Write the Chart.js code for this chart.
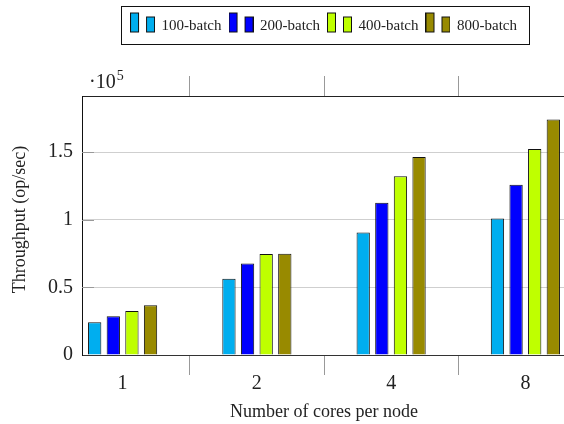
<!DOCTYPE html>
<html><head><meta charset="utf-8">
<script src="https://cdn.jsdelivr.net/npm/chart.js@4/dist/chart.umd.min.js"></script>
<style>html,body{margin:0;padding:0;overflow:hidden;background:#fff;width:564px;height:424px}canvas{display:block}</style>
</head><body>
<canvas id="c" width="648" height="424"></canvas>
<script>
const categories = ['1', '2', '4', '8'];
const seriesNames = ['100-batch', '200-batch', '400-batch', '800-batch'];
const batch100 = [24200, 56300, 90600, 101000];
const batch200 = [28600, 67600, 112600, 125900];
const batch400 = [32500, 74600, 132100, 152400];
const batch800 = [36800, 74800, 146400, 174100];
const yTicks = [0, 50000, 100000, 150000];
const yTickLabels = ['0', '0.5', '1', '1.5'];
const yMax = 191500;
const colors = ['#00aeef', '#0000ff', '#bfff00', '#988a00'];
const seriesValues = [batch100, batch200, batch400, batch800];

const FONT = '"Liberation Serif", "DejaVu Serif", serif';
const X_MIN = -0.3025, X_MAX = 3.3025;

function makeIcon(color) {
  const c = document.createElement('canvas');
  c.width = 25; c.height = 30;
  const g = c.getContext('2d');
  g.fillStyle = color; g.strokeStyle = '#111'; g.lineWidth = 1;
  g.fillRect(0.5, 1.5, 8, 19); g.strokeRect(0.5, 1.5, 8, 19);
  g.fillRect(16.5, 5.5, 8, 15); g.strokeRect(16.5, 5.5, 8, 15);
  return c;
}
const icons = colors.map(makeIcon);

const datasets = seriesNames.map((name, i) => ({
  label: name,
  data: seriesValues[i].map((v, j) => ({ x: j, y: v })),
  xAxisID: 'xData',
  backgroundColor: colors[i],
  borderColor: '#111',
  borderWidth: 1,
  categoryPercentage: 0.5547,
  barPercentage: 0.714
}));

const catTicks = [0, 1, 2, 3];
const halfTicks = [0.5, 1.5, 2.5];
const allXTicks = [0, 0.5, 1, 1.5, 2, 2.5, 3];
const isInt = c => !!(c && c.tick && Number.isInteger(c.tick.value));

const decor = {
  id: 'decor',
  afterInit(chart) {
    const lg = chart.legend;
    if (lg) {
      const f = lg.fit;
      lg.fit = function () { f.call(this); this.height = 65; };
    }
  },
  beforeDatasetsDraw(chart) {
    const { ctx, chartArea, scales } = chart;
    ctx.save();
    ctx.strokeStyle = '#999';
    ctx.lineWidth = 1;
    yTicks.slice(1).forEach(v => {
      const y = Math.round(scales.y.getPixelForValue(v)) + 0.5;
      ctx.beginPath();
      ctx.moveTo(chartArea.left, y);
      ctx.lineTo(chartArea.left + 12, y);
      ctx.stroke();
    });
    ctx.restore();
  },
  afterDraw(chart) {
    const { ctx, chartArea } = chart;
    const lg = chart.legend;
    const hb = lg && lg.legendHitBoxes;
    if (hb && hb.length) {
      const l = Math.min(...hb.map(h => h.left));
      const r = Math.max(...hb.map(h => h.left + h.width));
      const t = lg.top + lg.options.labels.padding;
      ctx.save();
      ctx.strokeStyle = '#111';
      ctx.lineWidth = 1;
      ctx.strokeRect(Math.round(l - 10) + 0.5, Math.round(t - 13) + 0.5, Math.round(r - l + 22), 38);
      ctx.restore();
    }
    ctx.save();
    ctx.fillStyle = '#222';
    ctx.textBaseline = 'alphabetic';
    ctx.font = '20px ' + FONT;
    const base = '\u00b710';
    const x0 = chartArea.left + 7;
    ctx.fillText(base, x0, chartArea.top - 8);
    const w = ctx.measureText(base).width;
    ctx.font = '14px ' + FONT;
    ctx.fillText('5', x0 + w + 1, chartArea.top - 16.5);
    ctx.font = '18px ' + FONT;
    ctx.textAlign = 'center';
    ctx.textBaseline = 'middle';
    ctx.translate(20, (chartArea.top + chartArea.bottom) / 2 - 6);
    ctx.rotate(-Math.PI / 2);
    ctx.fillText('Throughput (op/sec)', 0, 0);
    ctx.restore();
  }
};

new Chart(document.getElementById('c'), {
  type: 'bar',
  data: { datasets },
  options: {
    responsive: false,
    animation: false,
    devicePixelRatio: 1,
    layout: { padding: { top: 11, left: 0, right: 0, bottom: 0 } },
    plugins: {
      tooltip: { enabled: false },
      legend: {
        position: 'top',
        labels: {
          usePointStyle: true,
          pointStyleWidth: 23,
          padding: 8,
          color: '#222',
          font: { family: FONT, size: 15 },
          generateLabels: () => seriesNames.map((name, i) => ({
            text: name, pointStyle: icons[i], fillStyle: colors[i],
            strokeStyle: '#111', lineWidth: 0, hidden: false, datasetIndex: i, fontColor: '#222'
          }))
        }
      }
    },
    scales: {
      xData: {
        type: 'linear', position: 'bottom', display: false, min: X_MIN, max: X_MAX, offset: false,
        afterBuildTicks: s => { s.ticks = catTicks.map(v => ({ value: v })); },
        grid: { offset: false }
      },
      x: {
        type: 'linear', position: 'bottom', min: X_MIN, max: X_MAX, offset: false,
        afterBuildTicks: s => { s.ticks = allXTicks.map(v => ({ value: v })); },
        afterFit: s => { s.height = 69; },
        ticks: {
          color: '#222', font: { family: FONT, size: 20 }, padding: -3, maxRotation: 0, autoSkip: false,
          callback: v => (Number.isInteger(v) ? categories[v] : '')
        },
        grid: {
          offset: false, drawOnChartArea: false, tickLength: 20, lineWidth: 1,
          tickColor: c => (isInt(c) ? 'rgba(0,0,0,0)' : '#999')
        },
        border: { display: true, color: '#333', width: 1 },
        title: { display: true, text: 'Number of cores per node', color: '#222', font: { family: FONT, size: 18 }, padding: { top: 0, bottom: 1 } }
      },
      xTop: {
        type: 'linear', position: 'top', min: X_MIN, max: X_MAX, offset: false,
        afterBuildTicks: s => { s.ticks = halfTicks.map(v => ({ value: v })); },
        afterFit: s => { s.height = 20; },
        ticks: { display: false },
        grid: { offset: false, drawOnChartArea: false, tickLength: 20, tickColor: '#999' },
        border: { display: true, color: '#222', width: 1 }
      },
      y: {
        type: 'linear', position: 'left', min: 0, max: yMax,
        afterBuildTicks: s => { s.ticks = yTicks.map(v => ({ value: v })); },
        afterFit: s => { s.width = 82; },
        ticks: {
          color: '#222', font: { family: FONT, size: 20 }, padding: 9,
          callback: (v, i) => yTickLabels[i]
        },
        grid: { color: '#cfcfcf', drawTicks: false, lineWidth: 1 },
        border: { display: true, color: '#111', width: 1 },
        title: { display: false }
      },
      yR: {
        type: 'linear', position: 'right', min: 0, max: yMax,
        afterFit: s => { s.width = 82; },
        ticks: { display: false },
        grid: { display: false },
        border: { display: false }
      }
    }
  },
  plugins: [decor]
});
</script>
</body></html>
